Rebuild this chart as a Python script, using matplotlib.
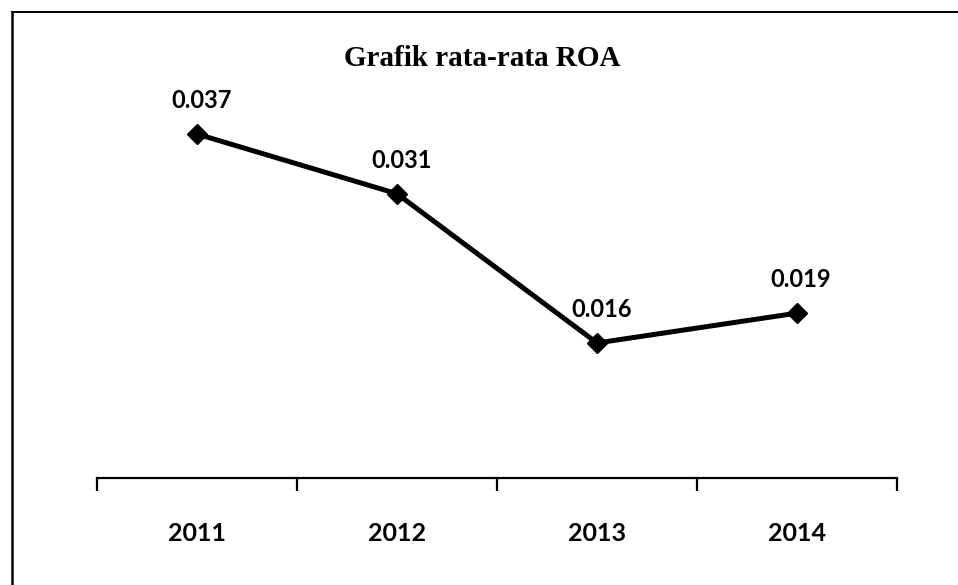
import matplotlib
matplotlib.use("Agg")
import matplotlib.pyplot as plt
from matplotlib.lines import Line2D

years = ["2011", "2012", "2013", "2014"]
roa = [0.037, 0.031, 0.016, 0.019]
value_labels = ["0.037", "0.031", "0.016", "0.019"]
title = "Grafik rata-rata ROA"

W, H = 958, 585
fig = plt.figure(figsize=(W / 100, H / 100), dpi=100)
fig.patch.set_facecolor("white")

# axes area in pixels
left_px, right_px, bottom_px, top_px = 97, 897, 478, 60
ax = fig.add_axes([left_px / W, 1 - bottom_px / H,
                   (right_px - left_px) / W, (bottom_px - top_px) / H])

x = list(range(len(years)))
ax.plot(x, roa, color="black", lw=3.6, marker="D", markersize=10,
        markerfacecolor="black", markeredgecolor="black", zorder=3)

for xi, yi, lab in zip(x, roa, value_labels):
    ax.annotate(lab, (xi, yi), xytext=(3, 24), textcoords="offset points",
                ha="center", va="center", fontsize=17, fontweight="bold",
                family="Lato", color="black")

ax.set_xlim(-0.5, len(years) - 0.5)
ax.set_ylim(0.00243, 0.04444)

for s in ["left", "right", "top"]:
    ax.spines[s].set_visible(False)
ax.spines["bottom"].set_linewidth(1.6)
ax.spines["bottom"].set_color("black")
ax.set_yticks([])

ax.set_xticks(x)
ax.set_xticklabels(years, fontsize=18, fontweight="bold", family="Lato")
ax.tick_params(axis="x", which="major", length=0, pad=32)
ax.set_xticks([i - 0.5 for i in range(len(years) + 1)], minor=True)
ax.tick_params(axis="x", which="minor", length=9, width=1.6, direction="out", color="black")

fig.text(482 / W, 1 - 58 / H, title, ha="center", va="center",
         fontsize=21, fontweight="bold", family="Liberation Serif")

# outer frame (left and top edges as in the scan)
fig.add_artist(Line2D([12 / W, 12 / W], [1 - 12 / H, 0], transform=fig.transFigure,
                      color="black", lw=1.8))
fig.add_artist(Line2D([12 / W, 1], [1 - 12 / H, 1 - 12 / H], transform=fig.transFigure,
                      color="black", lw=1.4))

fig.savefig("out.png", dpi=100, facecolor="white")
